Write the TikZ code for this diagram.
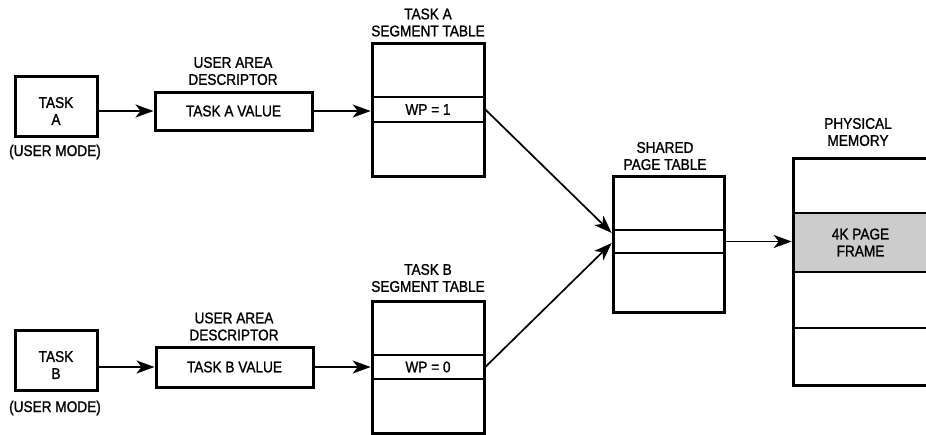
\documentclass[tikz,border=0pt]{standalone}
\usepackage{fontspec}
\setmainfont{Liberation Sans}[FakeBold=1.2, FakeStretch=0.88]
\usetikzlibrary{arrows.meta}
\begin{document}
\begin{tikzpicture}[x=1pt,y=-1pt,
  txt/.style={font=\fontsize{15.5}{17}\selectfont, inner sep=0pt, align=center},
  boxline/.style={draw, line width=3pt, inner sep=0pt},
  rowbox/.style={draw, line width=2.6pt, inner sep=0pt},
  arr/.style={line width=1.7pt, -{Stealth[length=18pt,width=13pt,inset=5pt]}},
]
\useasboundingbox (0,0) rectangle (926,434);
\clip (0,0) rectangle (926,434);

% ---- tasks ----
\node[boxline, minimum width=82pt, minimum height=60pt] (taskA) at (56,106) {};
\node[txt] (taskAtxt) at (56,111) {TASK\\A};
\node[txt] (modeA) at (55,152) {(USER MODE)};

\node[boxline, minimum width=82pt, minimum height=60pt] (taskB) at (56,360) {};
\node[txt] (taskBtxt) at (56,365) {TASK\\B};
\node[txt] (modeB) at (55,408) {(USER MODE)};

% ---- user area descriptors ----
\node[boxline, txt, minimum width=157pt, minimum height=38pt] (descA) at (233.5,111) {TASK A VALUE};
\node[txt] (descAlbl) at (233,71) {USER AREA\\DESCRIPTOR};

\node[boxline, txt, minimum width=157pt, minimum height=40pt] (descB) at (234.5,367) {TASK B VALUE};
\node[txt] (descBlbl) at (234,326.5) {USER AREA\\DESCRIPTOR};

% ---- segment tables ----
\node[rowbox, txt, minimum width=112pt, minimum height=25pt] (wpA) at (428,109.5) {WP = 1};
\node[boxline, minimum width=112pt, minimum height=133pt] (segA) at (428,109.5) {};
\node[txt] (segAlbl) at (428,22.5) {TASK A\\SEGMENT TABLE};

\node[rowbox, txt, minimum width=112pt, minimum height=24pt] (wpB) at (428,367) {WP = 0};
\node[boxline, minimum width=112pt, minimum height=132pt] (segB) at (428,367) {};
\node[txt] (segBlbl) at (428,278) {TASK B\\SEGMENT TABLE};

% ---- shared page table ----
\node[rowbox, minimum width=111pt, minimum height=23pt] (ptrow) at (668.5,241.5) {};
\node[boxline, minimum width=111pt, minimum height=136pt] (shared) at (668.5,244) {};
\node[txt] (sharedlbl) at (665,156) {SHARED\\PAGE TABLE};

% ---- physical memory (runs off the right edge) ----
\node[rowbox, txt, fill=black!20, minimum width=135pt, minimum height=59pt] (pageframe) at (860.5,242.5) {4K PAGE\\FRAME};
\node[rowbox, minimum width=135pt, minimum height=56pt] (slotC) at (860.5,300) {};
\node[boxline, minimum width=135pt, minimum height=227pt] (phys) at (860.5,271.5) {};
\node[txt] (physlbl) at (858,132) {PHYSICAL\\MEMORY};

% ---- connectors ----
\draw[arr] (taskA.east |- descA.west) -- (descA.west);
\draw[arr] (taskB.east |- descB.west) -- (descB.west);
\draw[arr] (descA.east) -- (descA.east -| wpA.west);
\draw[arr] (descB.east) -- (descB.east -| wpB.west);
\draw[arr] (wpA.east) -- ([yshift=8.5pt]ptrow.west);
\draw[arr] (wpB.east) -- ([yshift=-1.5pt]ptrow.west);
\draw[arr] (ptrow.east) -- (ptrow.east -| pageframe.west);
\end{tikzpicture}
\end{document}
